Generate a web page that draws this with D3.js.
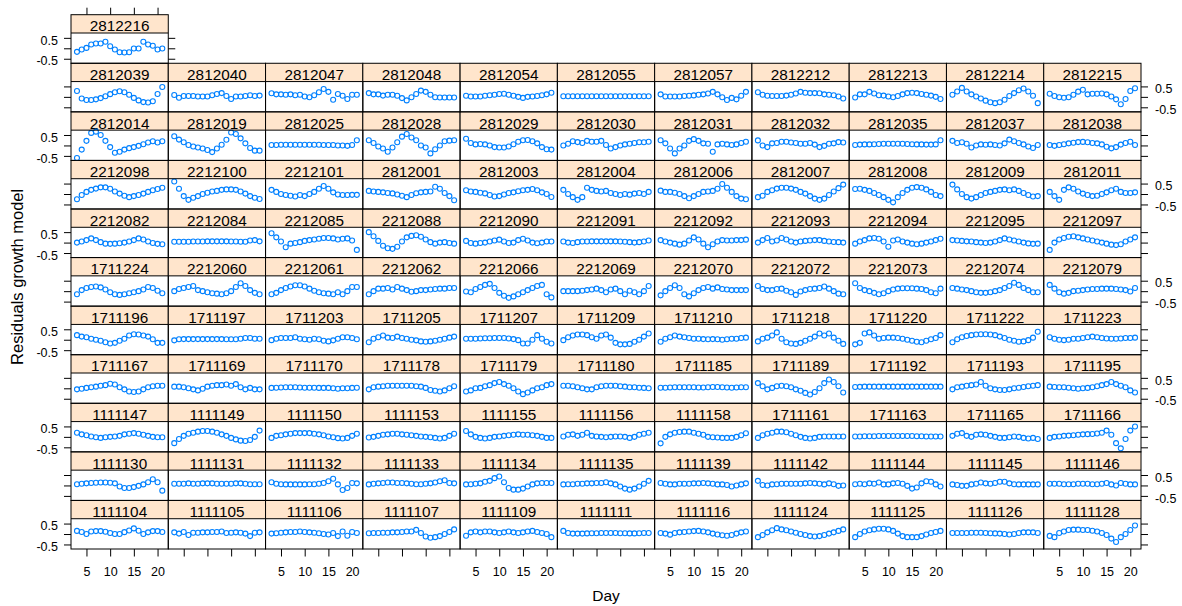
<!DOCTYPE html>
<html>
<head>
<meta charset="utf-8">
<script src="https://cdn.jsdelivr.net/npm/d3@7"></script>
<style>
  body { margin: 0; background: #fff; }
  svg text { font-family: "Liberation Sans", Arial, Helvetica, sans-serif; fill: #000; }
</style>
</head>
<body>
<svg id="chart" width="1182" height="606"></svg>
<script>
// Measurement days shared by every plant
const days = [3, 4, 5, 6, 7, 8, 9, 10, 11, 12, 13, 14, 15, 16, 17, 18, 19, 20, 21];
const xTickValues = [5, 10, 15, 20];
const yTickValues = [-0.5, 0, 0.5];
const yTickLabels = ["-0.5", "", "0.5"];
const yLimits = [-0.717, 0.732];

// Plant identifiers in panel order (bottom-left first, row by row)
const plantIds = [
  "1111104","1111105","1111106","1111107","1111109","1111111","1111116","1111124","1111125","1111126","1111128",
  "1111130","1111131","1111132","1111133","1111134","1111135","1111139","1111142","1111144","1111145","1111146",
  "1111147","1111149","1111150","1111153","1111155","1111156","1111158","1711161","1711163","1711165","1711166",
  "1711167","1711169","1711170","1711178","1711179","1711180","1711185","1711189","1711192","1711193","1711195",
  "1711196","1711197","1711203","1711205","1711207","1711209","1711210","1711218","1711220","1711222","1711223",
  "1711224","2212060","2212061","2212062","2212066","2212069","2212070","2212072","2212073","2212074","2212079",
  "2212082","2212084","2212085","2212088","2212090","2212091","2212092","2212093","2212094","2212095","2212097",
  "2212098","2212100","2212101","2812001","2812003","2812004","2812006","2812007","2812008","2812009","2812011",
  "2812014","2812019","2812025","2812028","2812029","2812030","2812031","2812032","2812035","2812037","2812038",
  "2812039","2812040","2812047","2812048","2812054","2812055","2812057","2812212","2812213","2812214","2812215",
  "2812216"
];

// Residuals of the growth model, one row of the layout per array
const residualsRow1 = [
  [0.15,0.1,0.0,0.12,0.14,0.14,0.11,0.05,0.0,0.0,0.09,0.17,0.27,0.16,0.0,0.08,0.14,0.14,0.1],
  [0.08,0.02,0.1,-0.05,0.06,0.06,0.08,0.08,0.1,0.1,0.12,0.05,0.06,0.08,0.06,0.02,-0.1,0.06,0.08],
  [0.02,0.04,0.06,0.08,0.1,0.1,0.12,0.1,0.08,0.06,0.04,0.0,-0.02,0.05,-0.1,0.12,-0.08,0.1,0.05],
  [0.04,0.05,0.05,0.06,0.06,0.08,0.08,0.1,0.12,0.12,0.2,0.05,-0.12,-0.18,-0.15,-0.1,0.0,0.1,0.22],
  [-0.08,0.08,0.12,0.08,0.12,0.12,0.08,0.05,0.08,0.12,0.08,0.05,0.08,0.12,0.15,0.1,0.05,0.0,-0.15],
  [0.15,0.05,0.02,0.02,0.02,0.03,0.04,0.04,0.05,0.05,0.05,0.05,0.04,0.04,0.03,0.03,0.04,0.05,0.05],
  [0.05,0.02,-0.03,0.05,0.08,0.1,0.12,0.14,0.15,0.12,0.08,0.02,-0.02,-0.06,-0.08,-0.05,0.02,0.08,0.12],
  [-0.15,-0.05,0.08,0.18,0.28,0.22,0.18,0.12,0.06,0.0,-0.05,-0.1,-0.12,-0.1,-0.05,0.02,0.08,0.15,0.22],
  [-0.15,0.0,0.12,0.18,0.22,0.25,0.25,0.22,0.15,0.02,-0.1,-0.15,-0.15,-0.15,-0.1,-0.02,0.05,0.1,0.15],
  [0.05,0.05,0.05,0.05,0.06,0.06,0.06,0.05,0.04,0.03,0.02,0.0,-0.02,0.0,0.05,0.08,0.08,0.08,0.05],
  [-0.09,-0.15,0.05,0.12,0.19,0.21,0.21,0.19,0.19,0.16,0.12,0.05,-0.05,-0.22,-0.38,-0.15,0.0,0.19,0.41]
];
const residualsRow2 = [
  [0.06,0.08,0.1,0.12,0.13,0.14,0.14,0.13,0.1,-0.05,-0.12,-0.12,-0.08,-0.02,0.05,0.15,0.3,0.15,-0.25],
  [0.08,0.08,0.08,0.1,0.08,0.08,0.1,0.1,0.1,0.08,0.08,0.08,0.08,0.1,0.1,0.08,0.06,0.06,0.06],
  [0.15,0.08,0.06,0.05,0.05,0.05,0.05,0.05,0.06,0.06,0.08,0.12,0.2,0.32,0.05,-0.22,-0.12,0.12,0.1],
  [0.05,0.08,0.1,0.12,0.14,0.14,0.12,0.12,0.1,0.08,0.06,0.06,0.08,0.1,0.14,0.2,0.25,0.12,0.1],
  [0.05,0.06,0.08,0.1,0.18,0.22,0.35,0.43,0.15,-0.12,-0.2,-0.2,-0.15,-0.05,0.05,0.1,0.12,0.12,0.12],
  [0.05,0.06,0.06,0.08,0.08,0.1,0.1,0.12,0.12,0.15,0.1,0.05,-0.05,-0.15,-0.2,-0.15,-0.05,0.08,0.22],
  [0.12,0.08,0.05,0.05,0.08,0.08,0.08,0.1,0.1,0.12,0.1,0.08,0.05,0.05,0.02,-0.05,0.0,0.05,0.1],
  [0.22,0.02,0.0,0.05,0.06,0.08,0.08,0.08,0.08,0.08,0.1,0.12,0.1,0.08,0.05,0.1,0.06,-0.02,0.0],
  [0.06,0.08,0.06,0.1,0.08,0.14,0.05,0.05,0.1,0.12,0.08,-0.02,-0.15,-0.1,0.1,0.2,0.18,0.05,-0.05],
  [0.05,0.02,-0.02,-0.02,0.05,0.08,0.14,0.1,0.08,0.12,0.18,0.18,0.1,0.06,0.05,0.05,0.05,0.05,0.05],
  [0.08,0.08,0.08,0.06,0.06,0.06,0.08,0.08,0.08,0.06,0.06,0.08,0.12,0.05,0.0,0.12,0.08,0.05,0.05]
];
const residualsRow3 = [
  [0.2,0.12,0.08,0.02,-0.02,-0.05,-0.02,0.0,0.02,0.05,0.12,0.15,0.18,0.15,0.1,0.05,0.0,-0.02,-0.02],
  [-0.3,-0.1,0.05,0.15,0.2,0.25,0.28,0.28,0.25,0.2,0.12,0.05,-0.05,-0.12,-0.18,-0.2,-0.15,0.0,0.3],
  [-0.05,0.05,0.08,0.12,0.15,0.18,0.18,0.18,0.18,0.15,0.12,0.08,0.02,-0.02,-0.06,-0.08,-0.05,0.05,0.15],
  [-0.03,0.0,0.05,0.1,0.12,0.15,0.15,0.12,0.1,0.08,0.05,0.02,0.0,-0.02,-0.05,-0.08,-0.05,0.05,0.15],
  [0.28,0.12,0.0,-0.05,-0.08,-0.05,0.0,0.02,0.05,0.08,0.1,0.12,0.1,0.1,0.08,0.05,0.0,-0.05,-0.05],
  [0.02,0.1,0.12,0.05,0.1,0.2,0.05,0.02,0.0,-0.02,0.0,0.02,0.02,0.0,-0.05,0.0,0.1,0.15,0.2],
  [-0.31,0.0,0.12,0.2,0.23,0.25,0.25,0.2,0.15,0.1,0.0,-0.02,-0.03,-0.05,-0.05,-0.05,0.0,0.08,0.17],
  [-0.05,0.08,0.15,0.2,0.25,0.25,0.22,0.15,0.08,0.0,-0.05,-0.08,-0.05,0.0,0.02,0.02,0.02,0.02,0.02],
  [0.02,0.02,0.03,0.03,0.03,0.04,0.04,0.04,0.04,0.04,0.04,0.04,0.04,0.03,0.03,0.02,0.02,0.02,0.02],
  [0.05,0.15,0.18,0.05,0.0,0.1,0.12,0.1,0.05,0.0,-0.05,-0.05,-0.02,0.02,0.0,-0.05,-0.08,-0.05,-0.1],
  [-0.05,0.0,0.02,0.05,0.06,0.08,0.1,0.12,0.13,0.14,0.16,0.2,0.3,0.1,-0.3,-0.55,-0.1,0.3,0.5]
];
const residualsRow4 = [
  [-0.05,-0.02,0.02,0.05,0.08,0.12,0.15,0.22,0.18,0.05,-0.05,-0.15,-0.18,-0.15,-0.05,0.05,0.1,0.12,0.12],
  [0.08,0.08,0.05,0.0,-0.05,-0.1,-0.02,0.08,0.12,0.15,0.15,0.18,0.12,0.2,0.05,-0.05,0.02,-0.05,-0.05],
  [0.02,0.03,0.04,0.05,0.05,0.05,0.04,0.03,0.03,0.03,0.02,0.02,0.02,0.0,-0.02,0.0,0.0,0.02,0.03],
  [-0.05,0.05,0.08,0.1,0.12,0.12,0.12,0.12,0.12,0.12,0.1,0.08,0.02,-0.08,-0.12,-0.15,-0.1,0.0,0.1],
  [-0.15,-0.1,0.0,0.02,0.1,0.15,0.25,0.3,0.2,0.12,0.0,-0.15,-0.28,-0.2,-0.1,0.0,0.05,0.15,0.2],
  [0.12,0.12,0.1,0.05,0.0,-0.05,-0.05,0.05,0.1,0.12,0.12,0.12,0.1,0.08,0.05,0.05,0.03,0.02,0.0],
  [0.03,0.03,0.04,0.05,0.05,0.05,0.05,0.05,0.04,0.04,0.05,0.06,0.06,0.05,0.04,0.03,0.04,0.05,0.05],
  [0.25,0.1,-0.05,0.02,0.1,0.12,0.1,0.05,-0.05,-0.12,-0.22,-0.3,-0.18,0.0,0.25,0.42,0.3,0.1,-0.2],
  [0.06,0.07,0.08,0.08,0.08,0.08,0.08,0.08,0.08,0.08,0.08,0.08,0.08,0.08,0.08,0.08,0.08,0.08,0.08],
  [-0.05,0.05,0.08,0.12,0.15,0.18,0.3,0.12,0.0,-0.05,-0.08,-0.08,-0.05,0.0,0.03,0.06,0.1,0.12,0.15],
  [0.08,0.06,0.05,0.05,0.03,0.0,-0.02,0.0,0.02,0.05,0.1,0.15,0.2,0.3,0.2,0.12,0.05,-0.1,-0.2]
];
const residualsRow5 = [
  [0.22,0.15,0.12,0.05,0.0,-0.05,-0.12,-0.18,-0.15,-0.05,0.05,0.2,0.26,0.25,0.2,0.15,0.02,-0.15,-0.15],
  [-0.03,0.02,0.03,0.03,0.03,0.03,0.03,0.03,0.03,0.03,0.03,0.02,0.02,0.02,0.05,0.08,0.08,0.05,0.05],
  [-0.02,0.05,0.08,0.08,0.08,0.12,0.05,0.02,0.0,0.05,0.02,-0.05,-0.08,-0.03,0.05,0.12,0.12,0.08,0.02],
  [-0.12,0.05,0.12,0.2,0.1,0.08,0.15,0.08,0.05,0.0,-0.03,-0.08,-0.1,-0.08,-0.05,0.0,0.05,0.1,0.15],
  [0.05,0.05,0.05,0.06,0.07,0.07,0.08,0.08,0.08,0.06,0.03,-0.02,-0.18,-0.18,0.0,0.22,0.05,-0.1,-0.18],
  [-0.02,0.12,0.2,0.25,0.25,0.22,0.12,0.05,0.2,0.25,0.1,-0.15,-0.22,-0.22,-0.2,-0.1,0.0,0.15,0.3],
  [-0.1,0.05,0.12,0.2,0.15,0.12,0.08,0.05,0.05,0.03,0.02,0.03,0.02,0.0,0.02,0.05,0.05,0.08,0.1],
  [-0.08,0.05,0.1,0.2,0.35,0.05,-0.12,-0.18,-0.2,-0.15,-0.05,0.05,0.15,0.3,0.2,0.3,0.1,-0.05,-0.2],
  [-0.22,-0.15,0.3,0.35,0.2,0.05,0.08,0.1,0.1,0.08,0.05,0.0,-0.05,-0.1,-0.12,-0.05,0.02,0.08,0.22],
  [-0.12,0.02,0.12,0.18,0.22,0.25,0.26,0.26,0.25,0.22,0.15,0.08,0.0,-0.05,-0.1,-0.08,-0.02,0.1,0.38],
  [0.12,0.05,0.0,-0.02,0.0,0.05,0.05,0.08,0.12,0.15,0.12,0.08,0.06,0.05,0.05,0.06,0.08,0.08,0.1]
];
const residualsRow6 = [
  [-0.15,0.05,0.15,0.2,0.22,0.18,0.08,-0.05,-0.15,-0.18,-0.15,-0.1,-0.05,0.0,0.08,0.2,0.15,0.02,-0.1],
  [0.0,0.1,0.15,0.2,0.25,0.05,0.0,-0.05,-0.1,-0.12,-0.15,-0.1,0.0,0.2,0.38,0.25,0.05,-0.08,-0.15],
  [-0.15,-0.08,0.05,0.15,0.22,0.28,0.28,0.22,0.12,0.02,-0.05,-0.1,-0.12,-0.15,-0.05,-0.15,0.0,0.2,0.2],
  [-0.15,0.0,0.12,0.12,0.15,0.08,0.2,0.12,0.05,-0.03,0.0,0.05,0.05,0.08,0.1,0.12,0.12,0.15,0.15],
  [-0.02,-0.05,0.1,0.2,0.3,0.35,0.15,-0.08,-0.22,-0.32,-0.25,-0.15,-0.05,0.05,0.15,0.25,0.3,-0.15,-0.3],
  [0.0,0.0,0.0,0.0,0.02,0.05,0.08,0.12,0.05,-0.05,0.08,0.12,0.0,-0.15,0.02,-0.05,-0.15,0.0,0.25],
  [-0.2,0.0,0.15,0.28,0.15,-0.15,-0.25,-0.1,0.05,0.15,0.2,0.12,0.18,0.1,0.08,0.05,0.05,0.05,0.05],
  [0.25,0.1,0.05,0.05,0.1,0.12,0.02,-0.05,-0.18,-0.02,0.05,0.1,0.12,0.15,0.22,0.12,0.0,-0.12,-0.15],
  [0.38,0.15,0.05,0.0,-0.08,-0.15,-0.1,0.0,0.08,0.12,0.14,0.14,0.14,0.12,0.1,0.05,-0.05,-0.1,0.12],
  [0.15,0.12,0.08,0.05,0.0,-0.05,-0.08,-0.08,-0.05,0.0,0.05,0.15,0.25,0.4,0.3,0.15,0.05,-0.05,-0.05],
  [0.3,0.12,-0.05,-0.12,-0.08,0.0,0.02,0.05,0.08,0.1,0.1,0.12,0.12,0.12,0.1,0.08,0.05,-0.02,0.15]
];
const residualsRow7 = [
  [0.0,0.05,0.12,0.2,0.12,0.02,-0.05,-0.06,-0.05,-0.03,0.0,0.05,0.12,0.2,0.15,0.05,-0.02,-0.06,-0.08],
  [0.04,0.04,0.04,0.04,0.05,0.05,0.05,0.06,0.06,0.06,0.06,0.06,0.05,0.05,0.04,0.04,0.1,0.12,0.06],
  [0.45,0.25,0.05,-0.22,-0.05,-0.02,0.02,0.08,0.12,0.15,0.18,0.22,0.22,0.2,0.15,0.18,0.2,0.1,-0.35],
  [0.5,0.3,0.08,-0.15,-0.27,-0.3,-0.2,0.05,0.25,0.32,0.35,0.28,0.15,0.02,-0.05,0.0,0.02,-0.02,-0.05],
  [0.08,-0.02,-0.05,-0.02,0.0,0.05,0.1,0.14,0.05,-0.02,0.0,0.12,0.18,0.1,0.0,-0.03,0.0,0.05,0.05],
  [0.05,0.0,-0.02,0.02,0.05,0.05,0.06,0.06,0.06,0.06,0.06,0.06,0.05,0.04,0.02,0.0,0.02,0.05,0.1],
  [0.12,0.05,0.0,-0.05,-0.1,-0.05,0.1,0.25,0.15,-0.05,-0.22,-0.08,0.05,0.12,0.1,0.1,0.12,0.12,0.14],
  [0.0,0.12,0.22,0.05,0.1,0.22,0.15,0.05,0.0,0.05,0.08,0.1,0.12,0.12,0.08,0.05,0.03,0.02,0.0],
  [-0.05,0.05,0.12,0.2,0.22,0.18,0.05,-0.2,0.1,0.15,0.05,0.0,-0.05,-0.08,-0.05,0.0,0.05,0.12,0.18],
  [0.12,0.1,0.08,0.06,0.05,0.02,0.0,-0.02,0.0,0.05,0.12,0.2,0.15,0.1,0.05,0.0,-0.04,-0.06,-0.05],
  [-0.35,0.0,0.15,0.22,0.28,0.3,0.25,0.2,0.15,0.1,0.05,0.0,-0.05,-0.1,-0.12,-0.08,0.05,0.15,0.25]
];
const residualsRow8 = [
  [-0.25,-0.05,0.1,0.2,0.26,0.32,0.32,0.25,0.12,0.02,-0.08,-0.15,-0.1,-0.05,0.02,0.1,0.18,0.24,0.3],
  [0.6,0.25,-0.1,-0.28,-0.18,-0.1,0.0,0.06,0.12,0.15,0.2,0.22,0.22,0.2,0.12,0.02,-0.1,-0.18,-0.24],
  [0.2,0.1,0.0,-0.05,-0.08,-0.12,-0.05,-0.1,0.0,0.1,0.25,0.38,0.25,0.08,-0.02,-0.05,-0.05,-0.04,-0.04],
  [0.15,0.12,0.1,0.08,0.05,0.03,-0.02,-0.08,-0.15,-0.05,0.04,0.08,0.1,0.12,0.35,0.25,0.05,-0.1,-0.3],
  [0.18,0.12,0.1,0.06,0.03,-0.05,-0.12,-0.1,-0.02,0.05,0.08,0.13,0.18,0.2,0.24,0.18,0.08,0.0,-0.14],
  [0.2,0.0,-0.15,-0.28,-0.15,0.3,0.2,0.15,0.12,0.15,0.05,0.0,-0.05,0.0,-0.03,0.02,0.05,0.0,0.1],
  [0.16,0.1,0.1,0.06,0.0,-0.1,-0.2,-0.1,0.0,0.1,0.12,0.15,0.25,0.48,0.3,0.1,-0.1,-0.22,-0.25],
  [-0.15,-0.08,0.1,0.18,0.26,0.3,0.3,0.26,0.2,0.1,0.02,-0.1,-0.22,-0.28,-0.22,-0.05,0.12,0.28,0.45],
  [0.24,0.25,0.2,0.15,0.05,-0.05,-0.15,-0.28,-0.4,-0.15,0.05,0.2,0.3,0.33,0.3,0.22,0.1,-0.05,-0.1],
  [0.45,0.22,0.0,-0.15,-0.22,-0.15,-0.05,0.05,0.1,0.15,0.2,0.22,0.18,0.22,0.15,0.05,-0.05,-0.12,-0.1],
  [0.1,-0.1,-0.28,0.2,0.32,0.25,0.12,0.02,-0.05,-0.1,-0.08,0.0,0.08,0.18,0.25,0.1,0.05,0.05,0.08]
];
const residualsRow9 = [
  [-0.6,-0.2,0.22,0.6,0.66,0.5,0.22,-0.08,-0.35,-0.3,-0.2,-0.13,-0.08,-0.02,0.06,0.14,0.2,0.14,0.2],
  [0.44,0.28,0.15,0.02,-0.05,-0.1,-0.15,-0.22,-0.32,-0.15,0.03,0.27,0.62,0.55,0.34,0.1,-0.12,-0.25,-0.25],
  [0.02,0.02,0.03,0.03,0.03,0.03,0.03,0.03,0.03,0.03,0.03,0.02,0.02,0.02,0.0,0.0,-0.02,0.02,0.25],
  [0.25,0.12,-0.05,-0.15,-0.3,-0.1,0.15,0.42,0.55,0.38,0.25,0.0,-0.1,-0.38,-0.18,0.0,0.2,0.23,0.25],
  [0.32,0.12,0.05,0.07,0.05,0.0,-0.08,-0.1,-0.1,-0.05,0.06,0.18,0.25,0.26,0.2,0.1,-0.08,-0.18,-0.2],
  [0.0,0.08,0.2,0.16,0.12,0.22,0.18,0.18,0.22,0.02,-0.15,-0.08,0.0,0.05,0.08,0.12,0.15,0.15,0.18],
  [0.25,0.1,-0.15,-0.38,-0.15,0.0,0.22,0.3,0.22,0.1,0.08,-0.3,0.05,0.08,0.05,0.02,0.05,0.12,0.18],
  [0.24,0.0,-0.08,0.1,0.12,0.18,0.18,0.14,0.12,0.08,0.08,0.12,0.04,-0.08,-0.02,0.08,0.1,0.16,0.14],
  [0.02,0.04,0.05,0.05,0.06,0.07,0.08,0.08,0.08,0.08,0.08,0.07,0.06,0.05,0.05,0.04,0.04,0.05,0.25],
  [0.22,0.12,0.15,0.08,-0.1,0.0,0.05,0.03,0.05,0.02,0.0,0.1,0.28,0.2,0.12,0.05,-0.05,-0.12,0.02],
  [0.02,-0.02,0.02,0.06,0.1,0.13,0.16,0.17,0.15,0.12,0.1,0.05,-0.06,-0.14,-0.08,0.04,0.12,0.18,0.02]
];
const residualsRow10 = [
  [0.28,-0.08,-0.15,-0.15,-0.12,-0.06,0.03,0.13,0.22,0.27,0.22,0.1,-0.05,-0.17,-0.25,-0.27,-0.21,0.14,0.47],
  [0.09,-0.04,0.04,0.04,0.04,0.02,0.02,0.02,0.08,0.14,0.18,0.04,-0.1,0.02,0.02,0.04,0.08,0.04,0.06],
  [0.17,0.12,0.12,0.1,0.12,0.08,0.1,0.02,-0.02,0.08,0.22,0.38,0.24,-0.14,0.14,0.05,-0.1,0.1,0.1],
  [0.18,0.12,0.12,0.06,0.1,0.1,0.05,-0.06,-0.17,-0.02,0.14,0.3,0.24,0.1,-0.02,-0.03,-0.03,-0.03,-0.03],
  [0.05,0.02,0.02,0.02,0.05,0.08,0.1,0.14,0.15,0.1,0.05,0.0,-0.05,0.0,0.02,0.04,0.08,0.12,0.2],
  [0.03,0.03,0.03,0.03,0.03,0.03,0.03,0.03,0.03,0.03,0.03,0.03,0.03,0.03,0.03,0.03,0.03,0.03,0.03],
  [0.12,0.02,0.02,0.02,0.02,0.04,0.05,0.07,0.1,0.12,0.16,0.24,0.12,-0.02,-0.15,-0.05,-0.12,0.05,0.24],
  [0.22,0.1,0.05,0.04,0.04,0.04,0.06,0.1,0.16,0.24,0.2,0.18,0.18,0.17,0.12,0.1,0.08,0.02,-0.08],
  [-0.03,0.12,0.12,0.24,0.16,0.08,0.06,0.02,-0.02,0.04,0.12,0.18,0.2,0.18,0.14,0.1,0.06,0.0,-0.1],
  [0.1,0.26,0.43,0.26,0.12,0.02,-0.08,-0.18,-0.26,-0.3,-0.26,-0.14,0.04,0.18,0.32,0.4,0.26,0.05,-0.3],
  [0.15,0.04,-0.02,-0.04,-0.02,0.1,0.25,0.34,0.12,0.15,0.15,0.16,0.12,0.02,-0.12,-0.35,-0.1,0.28,0.41]
];
const residualsRow11 = [
  [-0.17,-0.06,0.02,0.18,0.23,0.23,0.31,0.1,-0.06,-0.19,-0.2,-0.19,-0.01,-0.01,0.31,0.18,0.12,-0.06,-0.01]
];

const residuals = [].concat(
  residualsRow1, residualsRow2, residualsRow3, residualsRow4, residualsRow5, residualsRow6,
  residualsRow7, residualsRow8, residualsRow9, residualsRow10, residualsRow11
);

// ---- layout ----
const layoutCols = 11, layoutRows = 11;
const gridLeft = 71, gridRight = 1141, gridTop = 14.7, gridBottom = 549;
const cellW = (gridRight - gridLeft) / layoutCols;
const cellH = (gridBottom - gridTop) / layoutRows;
const stripH = 18.3;
const panelH = cellH - stripH;
const tickLen = 7;

const pad = 0.07 * (d3.max(days) - d3.min(days));
const x = d3.scaleLinear().domain([d3.min(days) - pad, d3.max(days) + pad]).range([0, cellW]);
const y = d3.scaleLinear().domain(yLimits).range([panelH, 0]);

const svg = d3.select("#chart");
svg.append("rect").attr("width", 1182).attr("height", 606).attr("fill", "#fff");

const nPanels = plantIds.length;
const panelsInRow = r => Math.min(layoutCols, nPanels - r * layoutCols);

function cellOrigin(i) {
  const rowB = Math.floor(i / layoutCols), col = i % layoutCols;
  return [gridLeft + col * cellW, gridTop + (layoutRows - 1 - rowB) * cellH, rowB, col];
}

// panels
plantIds.forEach((id, i) => {
  const [gx, gy] = cellOrigin(i);
  const g = svg.append("g").attr("transform", `translate(${gx},${gy})`);

  g.append("rect").attr("width", cellW).attr("height", stripH).attr("fill", "#ffe5cc");
  g.append("text")
    .attr("x", cellW / 2).attr("y", stripH - 1.6)
    .attr("text-anchor", "middle")
    .style("font-size", "15.3px")
    .text(id);

  const p = g.append("g").attr("transform", `translate(0,${stripH})`);
  p.selectAll("circle")
    .data(days.map((d, k) => ({ day: d, value: residuals[i][k] })))
    .join("circle")
    .attr("cx", d => x(d.day))
    .attr("cy", d => y(d.value))
    .attr("r", 2.5)
    .attr("fill", "none")
    .attr("stroke", "#0080ff")
    .attr("stroke-width", 1.1);

  g.append("line").attr("x1", 0).attr("x2", cellW).attr("y1", stripH).attr("y2", stripH)
    .attr("stroke", "#000").attr("stroke-width", 1);
  g.append("rect").attr("width", cellW).attr("height", cellH)
    .attr("fill", "none").attr("stroke", "#000").attr("stroke-width", 1);
});

// ---- axes ----
function styleAxis(sel) {
  sel.select(".domain").remove();
  sel.selectAll(".tick line").attr("stroke", "#000");
  sel.selectAll(".tick text").style("font-size", "12.5px").attr("fill", "#000");
  sel.attr("font-family", null).attr("font-size", null);
}

for (let r = 0; r < layoutRows; r++) {
  const n = panelsInRow(r);
  const gyPanel = gridTop + (layoutRows - 1 - r) * cellH + stripH;
  const labelLeft = r % 2 === 0;

  const left = d3.axisLeft(y).tickValues(yTickValues).tickSize(tickLen).tickPadding(6)
    .tickFormat((d, k) => labelLeft ? yTickLabels[k] : "");
  svg.append("g").attr("transform", `translate(${gridLeft},${gyPanel})`).call(left).call(styleAxis)
    .selectAll(".tick text").attr("dy", "0.5em");

  const right = d3.axisRight(y).tickValues(yTickValues).tickSize(tickLen).tickPadding(7)
    .tickFormat((d, k) => labelLeft ? "" : yTickLabels[k]);
  svg.append("g").attr("transform", `translate(${gridLeft + n * cellW},${gyPanel})`).call(right).call(styleAxis)
    .selectAll(".tick text").attr("dy", "0.5em");
}

// bottom axis under the first row, labels on alternate columns
for (let c = 0; c < layoutCols; c++) {
  const bottom = d3.axisBottom(x).tickValues(xTickValues).tickSize(7.5).tickPadding(10.5)
    .tickFormat(d => c % 2 === 0 ? String(d) : "");
  svg.append("g").attr("transform", `translate(${gridLeft + c * cellW},${gridBottom})`).call(bottom).call(styleAxis);
}

// top axis above the uppermost row
for (let c = 0; c < panelsInRow(layoutRows - 1); c++) {
  const topAxis = d3.axisTop(x).tickValues(xTickValues).tickSize(tickLen)
    .tickFormat(d => c % 2 === 1 ? String(d) : "");
  svg.append("g").attr("transform", `translate(${gridLeft + c * cellW},${gridTop})`).call(topAxis).call(styleAxis);
}

// axis titles
svg.append("text")
  .attr("x", (gridLeft + gridRight) / 2).attr("y", 601)
  .attr("text-anchor", "middle")
  .style("font-size", "15.5px")
  .text("Day");

svg.append("text")
  .attr("transform", `translate(23,${(gridTop + gridBottom) / 2 - 5}) rotate(-90)`)
  .attr("text-anchor", "middle")
  .style("font-size", "16.5px")
  .text("Residuals growth model");
</script>
</body>
</html>
